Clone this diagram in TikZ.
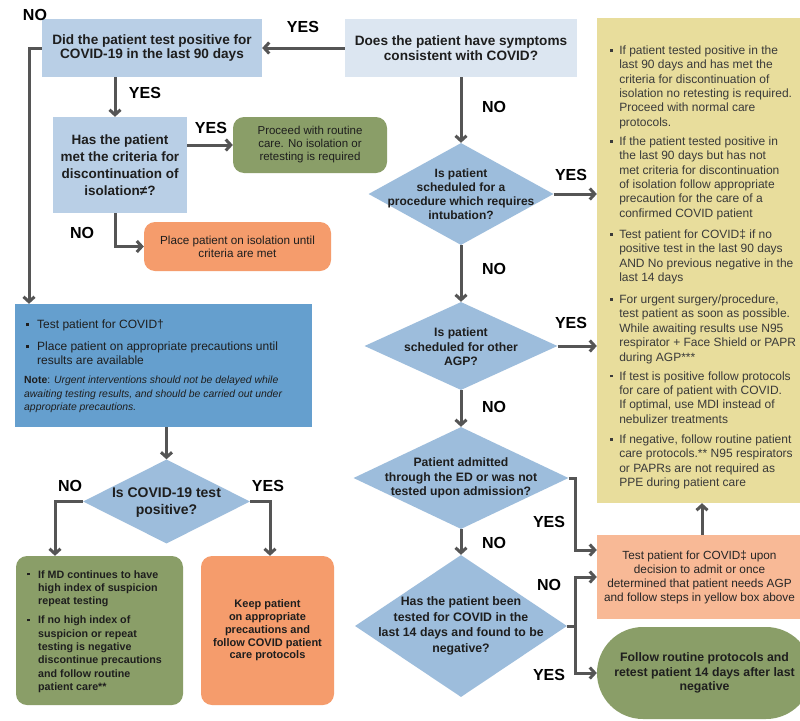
\documentclass[tikz,border=0pt]{standalone}
\usepackage{fontspec}
\setmainfont{Liberation Sans}
\usetikzlibrary{arrows.meta,shapes.geometric}
\definecolor{symbg}{HTML}{DCE6F1}
\definecolor{qblue}{HTML}{B9CFE6}
\definecolor{diablue}{HTML}{9DBDDC}
\definecolor{midblue}{HTML}{659FCE}
\definecolor{olive}{HTML}{8A9E68}
\definecolor{orng}{HTML}{F59C6C}
\definecolor{lorng}{HTML}{F8B996}
\definecolor{ylw}{HTML}{E8DD9C}
\definecolor{arrowgray}{HTML}{555555}
\definecolor{txtdark}{HTML}{1E1E1E}
\definecolor{ytxt}{HTML}{3A3A3A}
\newcommand\setfs[2]{\fontsize{#1}{#2}\selectfont}
\newcommand\sqb{\raisebox{2.6pt}{\rule{2.6pt}{2.6pt}}}
\begin{document}
\begin{tikzpicture}[x=1pt,y=-1pt,
  arr/.style={draw=arrowgray, line width=3pt, -{Straight Barb[length=5pt,width=11pt]}},
  lab/.style={font=\setfs{16}{16}\bfseries, text=black, inner sep=0pt},
  box/.style={inner sep=0pt, align=center, text=txtdark},
  rbox/.style={box, rounded corners=11pt},
  dia/.style={diamond, fill=diablue, inner sep=0pt},
  dtext/.style={align=center, inner sep=0pt, text=txtdark, font=\setfs{12.2}{14.5}\bfseries},
  lst/.style={anchor=north west, inner sep=0pt},
]
\useasboundingbox[fill=white] (0,0) rectangle (800,720);

% helper coordinates
\coordinate (xa) at (115,0);
\coordinate (xb) at (29,0);
\coordinate (xc) at (575,0);
\coordinate (xd) at (702,0);
\coordinate (xe) at (55,0);
\coordinate (xf) at (270,0);
\coordinate (ya) at (0,550);
\coordinate (yb) at (0,577);

% boxes
\node[box, fill=symbg, minimum width=232pt, minimum height=58pt, font=\setfs{13.6}{14.5}\bfseries] (sym) at (461,48) {Does the patient have symptoms\\consistent with COVID?};
\node[box, fill=qblue, minimum width=220pt, minimum height=58pt, font=\setfs{13.6}{14.5}\bfseries] (pos90) at (152,48) {Did the patient test positive for\\COVID-19 in the last 90 days};
\node[box, fill=qblue, minimum width=134pt, minimum height=96pt, font=\setfs{13.5}{17}\bfseries] (crit) at (120,165) {Has the patient\\met the criteria for\\discontinuation of\\isolation≠?};
\node[rbox, fill=olive, minimum width=154pt, minimum height=56pt, font=\setfs{11.5}{13}] (routine) at (310,145) {Proceed with routine\\care. No isolation or\\retesting is required};
\node[rbox, fill=orng, minimum width=187pt, minimum height=49pt, font=\setfs{11.7}{13.3}] (isol) at (237.5,246.5) {Place patient on isolation until\\criteria are met};

% big blue box
\node[box, fill=midblue, minimum width=297pt, minimum height=123pt] (test) at (163.5,365.5) {};
\node[lst, text=txtdark, font=\setfs{12}{13.5}] (testtxt) at (26,319) {\begin{tabular}{@{}l@{\hspace{8.4pt}}l@{}}
\sqb & Test patient for COVID†\\[8.5pt]
\sqb & Place patient on appropriate precautions until\\
 & results are available
\end{tabular}};
\node[lst, text=txtdark, font=\setfs{10.4}{13.5}] (notetxt) at (24,374) {\begin{tabular}{@{}l@{}}
\textbf{Note}: \textit{Urgent interventions should not be delayed while}\\
\textit{awaiting testing results, and should be carried out under}\\
\textit{appropriate precautions.}
\end{tabular}};

% bottom-left decision
\node[dia, minimum width=167pt, minimum height=84pt] (pos) at (166.5,501.5) {};
\node[dtext, font=\setfs{14}{17}\bfseries] (postxt) at (166.5,503) {Is COVID-19 test\\positive?};
\node[rbox, fill=olive, minimum width=167pt, minimum height=149pt] (neg) at (99.5,630.5) {};
\node[lst, text=txtdark, font=\setfs{10.7}{13.3}\bfseries] (negtxt) at (27,568.5) {\begin{tabular}{@{}l@{\hspace{8.4pt}}l@{}}
\sqb & If MD continues to have\\
 & high index of suspicion\\
 & repeat testing\\[6pt]
\sqb & If no high index of\\
 & suspicion or repeat\\
 & testing is negative\\
 & discontinue precautions\\
 & and follow routine\\
 & patient care**
\end{tabular}};
\node[rbox, fill=orng, minimum width=133pt, minimum height=149pt, font=\setfs{11}{12.8}\bfseries] (keep) at (267.5,630.5) {Keep patient\\on appropriate\\precautions and\\follow COVID patient\\care protocols};

% right column
\node[box, fill=ylw, minimum width=205pt, minimum height=485pt] (yel) at (699.5,260.5) {};
\node[lst, text=ytxt, font=\setfs{12}{14.4}] (yeltxt) at (610,44) {\begin{tabular}{@{}l@{\hspace{6.5pt}}l@{}}
\sqb & If patient tested positive in the\\
 & last 90 days and has met the\\
 & criteria for discontinuation of\\
 & isolation no retesting is required.\\
 & Proceed with normal care\\
 & protocols.\\[4.6pt]
\sqb & If the patient tested positive in\\
 & the last 90 days but has not\\
 & met criteria for discontinuation\\
 & of isolation follow appropriate\\
 & precaution for the care of a\\
 & confirmed COVID patient\\[6.6pt]
\sqb & Test patient for COVID‡ if no\\
 & positive test in the last 90 days\\
 & AND No previous negative in the\\
 & last 14 days\\[7.6pt]
\sqb & For urgent surgery/procedure,\\
 & test patient as soon as possible.\\
 & While awaiting results use N95\\
 & respirator + Face Shield or PAPR\\
 & during AGP***\\[4.6pt]
\sqb & If test is positive follow protocols\\
 & for care of patient with COVID.\\
 & If optimal, use MDI instead of\\
 & nebulizer treatments\\[5.6pt]
\sqb & If negative, follow routine patient\\
 & care protocols.** N95 respirators\\
 & or PAPRs are not required as\\
 & PPE during patient care
\end{tabular}};
\node[box, fill=lorng, minimum width=205pt, minimum height=84pt, font=\setfs{11.8}{14}, text=black!85] (lor) at (699.5,577) {Test patient for COVID‡ upon\\decision to admit or once\\determined that patient needs AGP\\and follow steps in yellow box above};
\node[box, fill=olive, rounded corners=46pt, minimum width=215pt, minimum height=92pt, font=\setfs{12.3}{14.6}\bfseries] (stad) at (704.5,673) {Follow routine protocols and\\retest patient 14 days after last\\negative};

% middle column diamonds
\node[dia, minimum width=185pt, minimum height=102pt] (d1) at (461,194) {};
\node[dtext, font=\setfs{12}{14}\bfseries] (d1t) at (461,194) {Is patient\\scheduled for a\\procedure which requires\\intubation?};
\node[dia, minimum width=193pt, minimum height=88pt] (d2) at (461,346) {};
\node[dtext] (d2t) at (461,347) {Is patient\\scheduled for other\\AGP?};
\node[dia, minimum width=215pt, minimum height=102pt] (d3) at (461,478) {};
\node[dtext] (d3t) at (461,478) {Patient admitted\\through the ED or was not\\tested upon admission?};
\node[dia, minimum width=212pt, minimum height=142pt] (d4) at (461,626) {};
\node[dtext, font=\setfs{12.3}{15.6}\bfseries] (d4t) at (461,626) {Has the patient been\\tested for COVID in the\\last 14 days and found to be\\negative?};

% connectors
\draw[arr] (sym.west) -- (pos90.east);
\draw[arr] (pos90.west) -| (xb |- test.north);
\draw[arr] (pos90.south -| xa) -- (crit.north -| xa);
\draw[arr] (crit.east |- routine.west) -- (routine.west);
\draw[arr] (crit.south -| xa) |- (isol.west);
\draw[arr] (pos |- test.south) -- (pos.north);
\draw[arr] (pos.west) -| (xe |- neg.north);
\draw[arr] (pos.east) -| (xf |- keep.north);
\draw[arr] (sym.south) -- (d1.north);
\draw[arr] (d1.east) -- (d1.east -| yel.west);
\draw[arr] (d1.south) -- (d2.north);
\draw[arr] (d2.east) -- (d2.east -| yel.west);
\draw[arr] (d2.south) -- (d3.north);
\draw[arr] (d3.south) -- (d4.north);
\draw[arr] (d3.east) -- (xc |- d3.east) |- (ya -| lor.west);
\draw[arr] (d4.east) -- (xc |- d4.east) |- (yb -| lor.west);
\draw[arr] (xc |- d4.east) |- (stad.west);
\draw[arr] (lor.north -| xd) -- (yel.south -| xd);

% labels
\node[lab] (l1) at (35,15) {NO};
\node[lab] (l2) at (303,27) {YES};
\node[lab] (l3) at (145,93) {YES};
\node[lab] (l4) at (211,128) {YES};
\node[lab] (l5) at (82,233) {NO};
\node[lab] (l6) at (494,107) {NO};
\node[lab] (l7) at (571,175) {YES};
\node[lab] (l8) at (494,269) {NO};
\node[lab] (l9) at (571,323) {YES};
\node[lab] (l10) at (494,407) {NO};
\node[lab] (l11) at (549,522) {YES};
\node[lab] (l12) at (494,543) {NO};
\node[lab] (l13) at (549,585) {NO};
\node[lab] (l14) at (549,675) {YES};
\node[lab] (l15) at (70,486) {NO};
\node[lab] (l16) at (268,486) {YES};
\end{tikzpicture}
\end{document}
